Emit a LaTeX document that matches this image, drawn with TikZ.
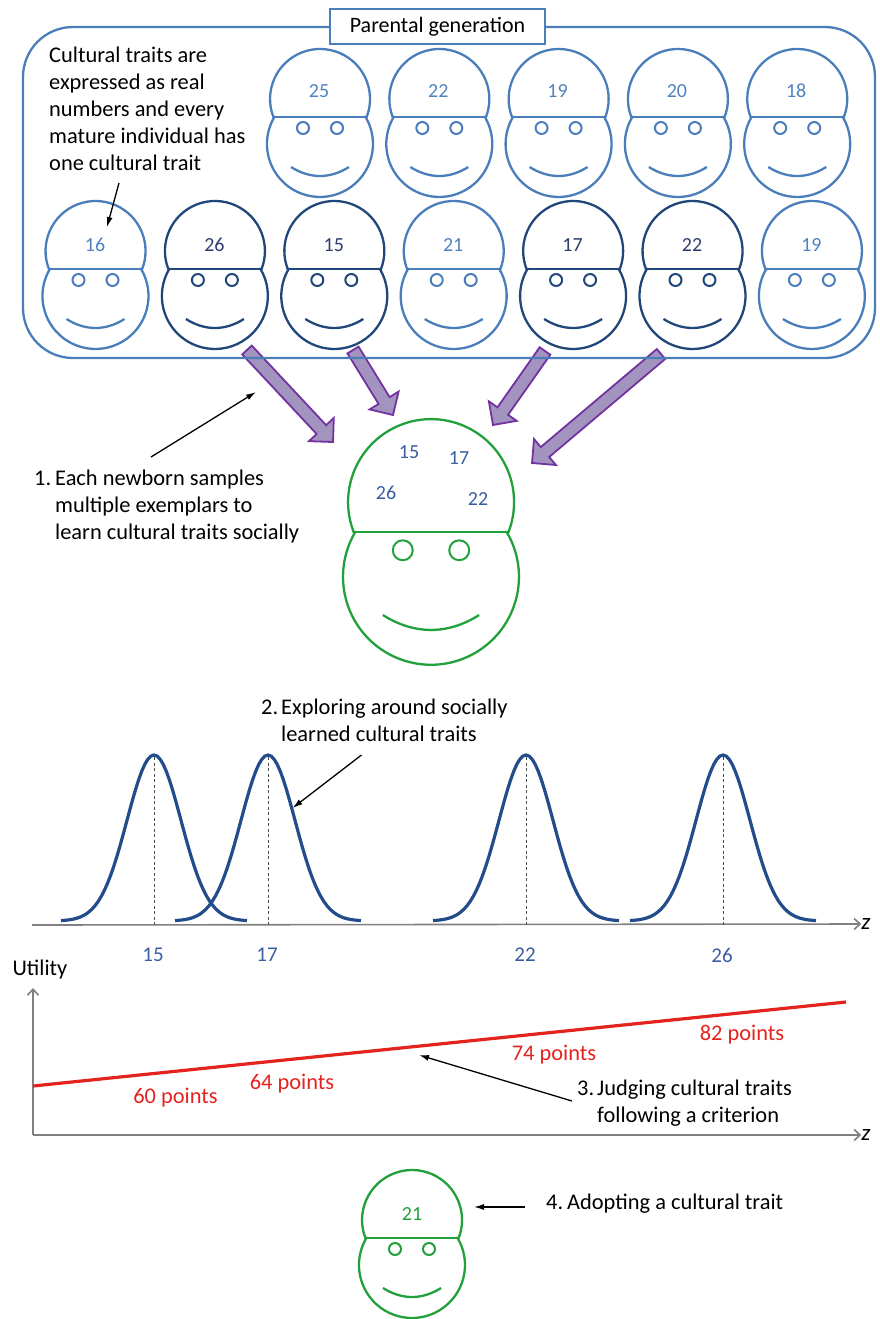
\documentclass[tikz,border=0pt]{standalone}
\usepackage{fontspec}
\setmainfont{Carlito}
\usetikzlibrary{arrows.meta,calc}

\definecolor{lightface}{HTML}{4A7EBB}
\definecolor{darkface}{HTML}{214679}
\definecolor{numlight}{HTML}{5082C0}
\definecolor{numdark}{HTML}{2E3D6B}
\definecolor{newborn}{HTML}{22A03C}
\definecolor{labelblue}{HTML}{3A5DA2}
\definecolor{curveblue}{HTML}{234C8A}
\definecolor{arrowfill}{HTML}{A393BF}
\definecolor{arrowline}{HTML}{7232A0}
\definecolor{utilred}{HTML}{E4221E}

\tikzset{
  txt/.style={font=\fontsize{22.4}{27}\selectfont, inner sep=0pt},
  num/.style={font=\fontsize{20}{24}\selectfont, inner sep=0pt},
  pointer/.style={line width=1.3pt, -{Latex[length=10pt,width=6pt]}},
  axis/.style={line width=1.6pt, draw=gray, -{Straight Barb[length=6pt,width=11pt]}},
  blockarrow/.style={fill=arrowfill, draw=arrowline, line width=1.8pt, line join=miter},
  pics/head/.style={code={
    % cap, face and the line between them
    \draw[line width=2.3pt] (-46.6,0) arc[start angle=158.9, end angle=381.1, radius=50]
      -- (45.6,0) arc[start angle=-30.6, end angle=210.6, radius=53] -- cycle;
    \draw[line width=2.3pt] (-46.6,0) -- (46.6,0);
    \draw[line width=2pt] (-17,11) circle[radius=6] (17,11) circle[radius=6];
    \draw[line width=2.3pt] (-29,50) .. controls (-10,62) and (10,62) .. (29,50);
  }}
}

% filled block arrow between two named points
\newcommand{\blockarrow}[2]{%
  \coordinate (bh) at ($(#2)!17pt!(#1)$);
  \filldraw[blockarrow] ($(#1)!6.5pt!90:(#2)$) -- ($(bh)!6.5pt!-90:(#1)$)
    -- ($(bh)!17pt!-90:(#1)$) -- (#2) -- ($(bh)!17pt!90:(#1)$)
    -- ($(bh)!6.5pt!90:(#1)$) -- ($(#1)!6.5pt!-90:(#2)$) -- cycle;}

\begin{document}
\begin{tikzpicture}[x=1pt,y=-1pt]
\useasboundingbox (0,0) rectangle (879,1319);

% sampling arrows, under the frame
\coordinate (t1) at (247,350); \coordinate (h1) at (333,442);
\coordinate (t2) at (353,350); \coordinate (h2) at (393,415);
\coordinate (t3) at (545,351); \coordinate (h3) at (493,425);
\coordinate (t4) at (661,354); \coordinate (h4) at (532,463);
\blockarrow{t1}{h1}
\blockarrow{t2}{h2}
\blockarrow{t3}{h3}
\blockarrow{t4}{h4}

% parental generation
\draw[lightface, line width=2.3pt, rounded corners=50pt] (23,27) rectangle (875,358);
\node[draw=lightface, fill=white, line width=2pt, minimum width=215pt, minimum height=35pt,
  font=\fontsize{22}{27}\selectfont, inner sep=0pt] (parental) at (437.5,26.7) {Parental generation};

\foreach \v [count=\i from 0] in {25,22,19,20,18} {
  \pic[lightface] at ({320+119.3*\i},117) {head};
  \node[num, numlight] (up\i) at ({319+119.3*\i},91) {\v};
}
\foreach \v/\c/\t [count=\i from 0] in {16/lightface/numlight,26/darkface/numdark,
    15/darkface/numdark,21/lightface/numlight,17/darkface/numdark,
    22/darkface/numdark,19/lightface/numlight} {
  \pic[\c] at ({95.5+119.4*\i},269) {head};
  \node[num, \t] (low\i) at ({95+119.4*\i},245) {\v};
}

\node[txt, anchor=north west] (traitnote) at (49,43) {\begin{tabular}{@{}l@{}}
  Cultural traits are\\ expressed as real\\ numbers and every\\
  mature individual has\\ one cultural trait\end{tabular}};
\coordinate (tn) at (119,183); \coordinate (tnend) at (107,227);
\draw[pointer] (tn) -- (tnend);

% newborn
\pic[newborn, scale=1.66] at (431,532) {head};
\node[num, labelblue] (s15) at (409,452) {15};
\node[num, labelblue] (s17) at (459,458) {17};
\node[num, labelblue] (s26) at (386,493) {26};
\node[num, labelblue] (s22) at (478,499) {22};

\node[txt, anchor=north west] (step1) at (34,466) {\begin{tabular}{@{}l@{\hspace{4pt}}l@{}}
  1. & Each newborn samples\\ & multiple exemplars to\\ & learn cultural traits socially\end{tabular}};
\coordinate (s1a) at (151,457); \coordinate (s1b) at (256,392);
\draw[pointer] (s1a) -- (s1b);

% exploration around the sampled traits
\coordinate (o1) at (32,925);
\node[txt, font=\fontsize{23}{27}\selectfont\itshape] (z1) at (866,924) {z};
\draw[axis] (o1) -- (z1.west);
\foreach \m/\t [count=\i] in {154/15,268/17,526/22,723/26} {
  \draw[curveblue, line width=3.2pt] plot[domain=-93:93, samples=61]
    ({\m+\x},{921-166*exp(-(\x*\x)/1458)});
  \draw[black!70, line width=1pt, dash pattern=on 3pt off 2.5pt] (\m,757) -- (\m,925);
  \node[num, font=\fontsize{21}{25}\selectfont, labelblue] (mu\i) at (\m-1,955) {\t};
}
\node[txt, anchor=north west] (step2) at (261,695) {\begin{tabular}{@{}l@{\hspace{3pt}}l@{}}
  2. & Exploring around socially\\ & learned cultural traits\end{tabular}};
\coordinate (s2a) at (361.5,755); \coordinate (s2b) at (292.6,808);
\draw[pointer] (s2a) -- (s2b);

% utility of the traits
\node[txt] (utility) at (40,970) {Utility};
\coordinate (o2) at (33,1135);
\coordinate (ytop) at (33,988);
\node[txt, font=\fontsize{23}{27}\selectfont\itshape] (z2) at (866,1135) {z};
\draw[axis] (o2) -- (z2.west);
\draw[axis] (o2) -- (ytop);
\coordinate (u0) at (33,1086); \coordinate (u1) at (846,1002);
\draw[utilred, line width=3.2pt] (u0) -- (u1);
\node[txt, utilred] (p60) at (175.5,1098) {60 points};
\node[txt, utilred] (p64) at (292,1084) {64 points};
\node[txt, utilred] (p74) at (554,1055) {74 points};
\node[txt, utilred] (p82) at (742,1035) {82 points};
\node[txt, anchor=north west] (step3) at (577,1076) {\begin{tabular}{@{}l@{\hspace{3pt}}l@{}}
  3. & Judging cultural traits\\ & following a criterion\end{tabular}};
\coordinate (s3a) at (572,1101); \coordinate (s3b) at (419,1055);
\draw[pointer] (s3a) -- (s3b);

% adopted trait
\pic[newborn] at (412,1238) {head};
\node[num, newborn] (adopt) at (412,1214) {21};
\node[txt, anchor=base west] (step4) at (546,1209) {4.\hspace{4pt}Adopting a cultural trait};
\coordinate (s4a) at (525,1207); \coordinate (s4b) at (474,1207);
\draw[pointer] (s4a) -- (s4b);
\end{tikzpicture}
\end{document}
